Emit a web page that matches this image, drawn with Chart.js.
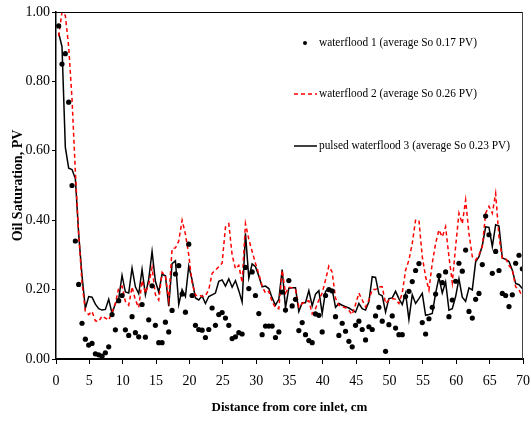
<!DOCTYPE html>
<html>
<head>
<meta charset="utf-8">
<script src="https://cdn.jsdelivr.net/npm/chart.js@4.4.0/dist/chart.umd.min.js"></script>
<style>
    html, body { margin: 0; padding: 0; background: #fff; }
    #wrap { width: 531px; height: 421px; }
</style>
</head>
<body>
<div id="wrap"><canvas id="chart" width="531" height="421"></canvas></div>
<script>
// distance from core inlet (cm), one sample every 0.5 cm
const distanceCm = [
    0.4, 0.9, 1.4, 1.9, 2.4, 2.9, 3.4, 3.9, 4.4, 4.9,
    5.4, 5.9, 6.4, 6.9, 7.4, 7.9, 8.4, 8.9, 9.4, 9.9,
    10.4, 10.9, 11.4, 11.9, 12.4, 12.9, 13.4, 13.9, 14.4, 14.9,
    15.4, 15.9, 16.4, 16.9, 17.4, 17.9, 18.4, 18.9, 19.4, 19.9,
    20.4, 20.9, 21.4, 21.9, 22.4, 22.9, 23.4, 23.9, 24.4, 24.9,
    25.4, 25.9, 26.4, 26.9, 27.4, 27.9, 28.4, 28.9, 29.4, 29.9,
    30.4, 30.9, 31.4, 31.9, 32.4, 32.9, 33.4, 33.9, 34.4, 34.9,
    35.4, 35.9, 36.4, 36.9, 37.4, 37.9, 38.4, 38.9, 39.4, 39.9,
    40.4, 40.9, 41.4, 41.9, 42.4, 42.9, 43.4, 43.9, 44.4, 44.9,
    45.4, 45.9, 46.4, 46.9, 47.4, 47.9, 48.4, 48.9, 49.4, 49.9,
    50.4, 50.9, 51.4, 51.9, 52.4, 52.9, 53.4, 53.9, 54.4, 54.9,
    55.4, 55.9, 56.4, 56.9, 57.4, 57.9, 58.4, 58.9, 59.4, 59.9,
    60.4, 60.9, 61.4, 61.9, 62.4, 62.9, 63.4, 63.9, 64.4, 64.9,
    65.4, 65.9, 66.4, 66.9, 67.4, 67.9, 68.4, 68.9, 69.4, 69.9
];

// oil saturation (PV)
const waterflood1 = [
    0.96, 0.85, 0.88, 0.74, 0.50, 0.34, 0.215, 0.103, 0.057, 0.04,
    0.045, 0.015, 0.012, 0.008, 0.018, 0.035, 0.128, 0.084, 0.168, 0.183,
    0.084, 0.068, 0.122, 0.076, 0.064, 0.157, 0.063, 0.113, 0.211, 0.097,
    0.047, 0.047, 0.106, 0.078, 0.14, 0.245, 0.269, 0.187, 0.135, 0.331,
    0.183, 0.097, 0.085, 0.083, 0.062, 0.085, 0.147, 0.097, 0.128, 0.134,
    0.118, 0.097, 0.059, 0.064, 0.076, 0.072, 0.264, 0.203, 0.251, 0.183,
    0.131, 0.07, 0.095, 0.095, 0.095, 0.062, 0.078, 0.193, 0.141, 0.226,
    0.153, 0.172, 0.082, 0.105, 0.07, 0.053, 0.047, 0.13, 0.126, 0.078,
    0.183, 0.2, 0.196, 0.122, 0.068, 0.103, 0.08, 0.051, 0.035, 0.097,
    0.109, 0.085, 0.055, 0.093, 0.085, 0.124, 0.149, 0.109, 0.022, 0.099,
    0.124, 0.089, 0.07, 0.07, 0.18, 0.195, 0.223, 0.255, 0.275, 0.105,
    0.072, 0.116, 0.149, 0.187, 0.24, 0.22, 0.251, 0.122, 0.17, 0.224,
    0.276, 0.253, 0.314, 0.137, 0.118, 0.172, 0.189, 0.272, 0.412, 0.358,
    0.247, 0.31, 0.255, 0.189, 0.183, 0.151, 0.185, 0.276, 0.299, 0.26
];

const waterflood2 = [
    0.93, 1.0, 0.99, 0.90, 0.75, 0.54, 0.36, 0.22, 0.138, 0.128,
    0.137, 0.11, 0.108, 0.124, 0.118, 0.112, 0.135, 0.16, 0.205, 0.21,
    0.166, 0.155, 0.208, 0.17, 0.148, 0.226, 0.19, 0.215, 0.263, 0.185,
    0.17, 0.25, 0.24, 0.17, 0.318, 0.32, 0.34, 0.40, 0.36, 0.30,
    0.22, 0.183, 0.185, 0.18, 0.182, 0.2, 0.247, 0.256, 0.266, 0.276,
    0.38, 0.39, 0.30, 0.26, 0.27, 0.22, 0.39, 0.345, 0.31, 0.276,
    0.245, 0.21, 0.19, 0.195, 0.165, 0.148, 0.145, 0.256, 0.19, 0.207,
    0.205, 0.2, 0.15, 0.16, 0.165, 0.168, 0.13, 0.145, 0.17, 0.19,
    0.228, 0.268, 0.25, 0.175, 0.155, 0.15, 0.148, 0.14, 0.128, 0.157,
    0.19, 0.17, 0.15, 0.17, 0.2, 0.2, 0.208, 0.208, 0.16, 0.17,
    0.174, 0.172, 0.16, 0.19, 0.256, 0.285, 0.333, 0.40, 0.40, 0.295,
    0.237, 0.199, 0.276, 0.333, 0.372, 0.352, 0.381, 0.295, 0.22, 0.324,
    0.42, 0.39, 0.458, 0.362, 0.295, 0.285, 0.30, 0.324, 0.42, 0.44,
    0.42, 0.477, 0.352, 0.29, 0.29, 0.27, 0.256, 0.208, 0.199, 0.18
];

const pulsedWaterflood3 = [
    0.94, 0.90, 0.61, 0.55, 0.546, 0.52, 0.36, 0.24, 0.146, 0.18,
    0.178, 0.158, 0.145, 0.141, 0.143, 0.172, 0.131, 0.16, 0.174, 0.241,
    0.193, 0.19, 0.262, 0.208, 0.188, 0.258, 0.185, 0.23, 0.31, 0.224,
    0.193, 0.244, 0.24, 0.152, 0.275, 0.283, 0.157, 0.2, 0.18, 0.268,
    0.228, 0.176, 0.17, 0.182, 0.16, 0.18, 0.185, 0.19, 0.224, 0.228,
    0.21, 0.231, 0.207, 0.226, 0.197, 0.164, 0.362, 0.233, 0.274, 0.266,
    0.239, 0.208, 0.21, 0.203, 0.176, 0.155, 0.172, 0.258, 0.147, 0.204,
    0.205, 0.205, 0.137, 0.162, 0.162, 0.197, 0.153, 0.187, 0.197, 0.131,
    0.195, 0.203, 0.2, 0.149, 0.16, 0.155, 0.151, 0.147, 0.141, 0.135,
    0.16, 0.145, 0.141, 0.165, 0.237, 0.235, 0.187, 0.182, 0.135, 0.174,
    0.176, 0.195, 0.174, 0.157, 0.189, 0.114, 0.185, 0.16, 0.174, 0.189,
    0.126, 0.128, 0.131, 0.189, 0.235, 0.19, 0.222, 0.141, 0.145, 0.18,
    0.231, 0.178, 0.166, 0.205, 0.199, 0.28, 0.295, 0.327, 0.381, 0.379,
    0.324, 0.387, 0.383, 0.291, 0.287, 0.281, 0.256, 0.218, 0.214, 0.203
];

const xTicks = [0, 5, 10, 15, 20, 25, 30, 35, 40, 45, 50, 55, 60, 65, 70];
const yTicks = [0, 0.2, 0.4, 0.6, 0.8, 1.0];

const seriesLabels = [
    "waterflood 1 (average So 0.17 PV)",
    "waterflood 2 (average So 0.26 PV)",
    "pulsed waterflood 3 (average So 0.23 PV)"
];

const SERIF = "'Liberation Serif', 'Times New Roman', serif";

function toPoints(values) {
    return distanceCm.map(function (d, i) { return { x: d, y: values[i] }; });
}

// top/right frame lines and the in-plot legend
const framePlugin = {
    id: "frame",
    afterDraw(chart) {
        const ctx = chart.ctx;
        const a = chart.chartArea;
        ctx.save();
        ctx.strokeStyle = "#000";
        ctx.lineWidth = 1;
        ctx.beginPath();
        ctx.moveTo(a.left, a.top + 0.5);
        ctx.lineTo(a.right, a.top + 0.5);
        ctx.stroke();
        ctx.strokeStyle = "#444";
        ctx.beginPath();
        ctx.moveTo(a.right - 0.5, a.top);
        ctx.lineTo(a.right - 0.5, a.bottom);
        ctx.stroke();

        const textX = 319;
        const rows = [43, 94, 146];
        const widths = [158, 158, 191];
        ctx.font = "13px " + SERIF;
        ctx.fillStyle = "#000";
        ctx.textBaseline = "middle";
        ctx.textAlign = "left";

        // dot
        ctx.beginPath();
        ctx.arc(305, rows[0], 2, 0, Math.PI * 2);
        ctx.fill();
        // red dashes
        ctx.strokeStyle = "#ff0000";
        ctx.lineWidth = 1.5;
        ctx.setLineDash([4, 3]);
        ctx.beginPath();
        ctx.moveTo(294, rows[1]);
        ctx.lineTo(317, rows[1]);
        ctx.stroke();
        ctx.setLineDash([]);
        // black line
        ctx.strokeStyle = "#000";
        ctx.beginPath();
        ctx.moveTo(294, rows[2]);
        ctx.lineTo(317, rows[2]);
        ctx.stroke();

        seriesLabels.forEach(function (t, i) {
            ctx.fillText(t, textX, rows[i], widths[i]);
        });
        ctx.restore();
    }
};

new Chart(document.getElementById("chart"), {
    type: "scatter",
    data: {
        datasets: [
            {
                label: seriesLabels[0],
                data: toPoints(waterflood1),
                showLine: false,
                pointRadius: 2.6,
                pointBackgroundColor: "#000",
                pointBorderWidth: 0
            },
            {
                label: seriesLabels[1],
                data: toPoints(waterflood2),
                showLine: true,
                borderColor: "#ff0000",
                borderWidth: 1.5,
                borderDash: [4, 3],
                pointRadius: 0,
                tension: 0
            },
            {
                label: seriesLabels[2],
                data: toPoints(pulsedWaterflood3),
                showLine: true,
                borderColor: "#000",
                borderWidth: 1.5,
                pointRadius: 0,
                tension: 0
            }
        ]
    },
    options: {
        responsive: false,
        animation: false,
        layout: { padding: { left: 0, top: 12, right: 8, bottom: 0 } },
        plugins: {
            legend: { display: false },
            tooltip: { enabled: false }
        },
        scales: {
            x: {
                type: "linear",
                min: 0,
                max: 70,
                afterBuildTicks: function (s) { s.ticks = xTicks.map(function (v) { return { value: v }; }); },
                afterFit: function (s) {
                    s.height = 62;
                    s.paddingLeft = 0;
                    s.paddingRight = 0;
                },
                border: { color: "#000", width: 2 },
                grid: { drawOnChartArea: false, drawTicks: true, tickLength: 5, color: "#000" },
                ticks: {
                    color: "#000",
                    padding: 9,
                    maxRotation: 0,
                    font: { family: SERIF, size: 14 }
                },
                title: {
                    display: true,
                    text: "Distance from core inlet, cm",
                    color: "#000",
                    padding: { top: 0, bottom: 6 },
                    font: { family: SERIF, size: 13, weight: "bold" }
                }
            },
            y: {
                min: 0,
                max: 1,
                afterBuildTicks: function (s) { s.ticks = yTicks.map(function (v) { return { value: v }; }); },
                afterFit: function (s) {
                    s.width = 56;
                    s.paddingTop = 0;
                    s.paddingBottom = 0;
                },
                border: { color: "#000", width: 1.5 },
                grid: { drawOnChartArea: false, drawTicks: true, tickLength: 4, color: "#000" },
                ticks: {
                    color: "#000",
                    padding: 2,
                    font: { family: SERIF, size: 14 },
                    callback: function (v) { return Number(v).toFixed(2); }
                },
                title: {
                    display: true,
                    text: "Oil Saturation, PV",
                    color: "#000",
                    padding: { top: 10, bottom: 0 },
                    font: { family: SERIF, size: 14, weight: "bold" }
                }
            }
        }
    },
    plugins: [framePlugin]
});
</script>
</body>
</html>
